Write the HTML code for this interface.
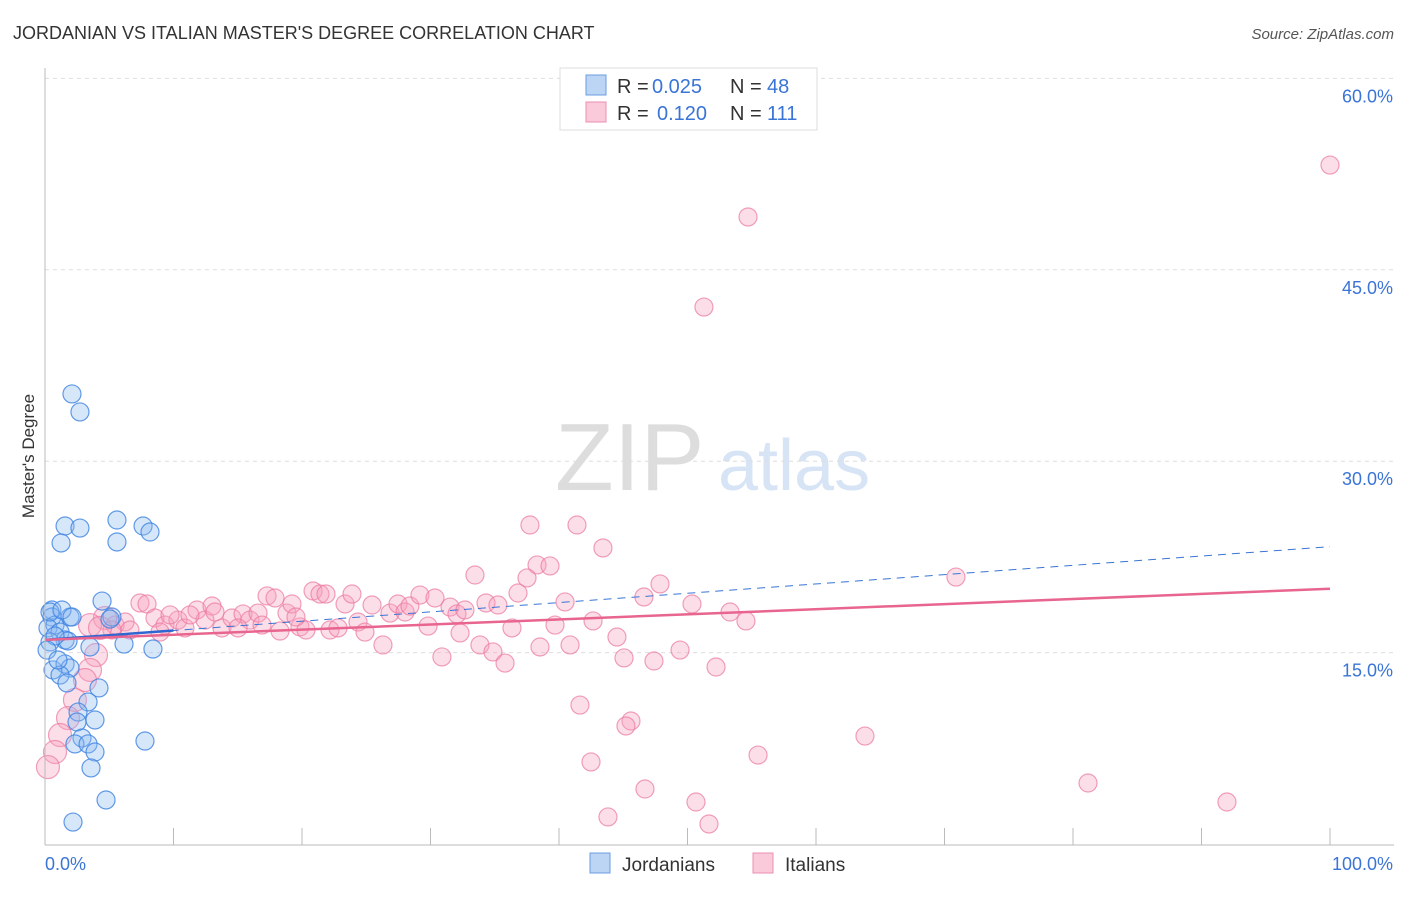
<!DOCTYPE html>
<html><head><meta charset="utf-8"><style>
body{margin:0;background:#fff;font-family:"Liberation Sans",sans-serif}
svg text{font-family:"Liberation Sans",sans-serif}
</style></head><body>
<svg id="c" width="1406" height="892" viewBox="0 0 1406 892" xmlns="http://www.w3.org/2000/svg">
<text x="13" y="39" font-size="18" fill="#333">JORDANIAN VS ITALIAN MASTER'S DEGREE CORRELATION CHART</text>
<text x="1394" y="39" font-size="15" fill="#555" text-anchor="end" font-style="italic">Source: ZipAtlas.com</text>
<text transform="translate(34,456) rotate(-90)" font-size="17" fill="#333" text-anchor="middle">Master's Degree</text>
<text x="555" y="490" font-size="96" fill="#ddd" font-family="Liberation Serif">ZIP</text>
<text x="718" y="490" font-size="72" fill="#d6e4f5">atlas</text>
<g id="grid"></g><g id="pts"></g><g id="trend"></g>
<line x1="45" y1="845" x2="1394" y2="845" stroke="#bbb"/>
<line x1="45" y1="68" x2="45" y2="845" stroke="#bbb"/>
<text x="45" y="870" font-size="18" fill="#3a74d6">0.0%</text>
<text x="1393" y="870" font-size="18" fill="#3a74d6" text-anchor="end">100.0%</text>
<g>
<rect x="560" y="68" width="257" height="62" fill="#fff" stroke="#ddd"/>
<rect x="586" y="75" width="20" height="20" fill="#bcd5f5" stroke="#6a9be0"/>
<text x="617" y="93" font-size="20" fill="#333">R =</text>
<text x="652" y="93" font-size="20" fill="#3a74d6">0.025</text>
<text x="730" y="93" font-size="20" fill="#333">N =</text>
<text x="767" y="93" font-size="20" fill="#3a74d6">48</text>
<rect x="586" y="102" width="20" height="20" fill="#fac9da" stroke="#ec8fb0"/>
<text x="617" y="120" font-size="20" fill="#333">R =</text>
<text x="657" y="120" font-size="20" fill="#3a74d6">0.120</text>
<text x="730" y="120" font-size="20" fill="#333">N =</text>
<text x="767" y="120" font-size="20" fill="#3a74d6">111</text>
</g>
<g>
<rect x="590" y="853" width="20" height="20" fill="#bcd5f5" stroke="#6a9be0"/>
<text x="622" y="871" font-size="19" fill="#333">Jordanians</text>
<rect x="753" y="853" width="20" height="20" fill="#fac9da" stroke="#ec8fb0"/>
<text x="785" y="871" font-size="19" fill="#333">Italians</text>
</g>
</svg>
<script>
const yTicks=[15,30,45,60];
const xTicks=[0,10,20,30,40,50,60,70,80,90,100];
const bluePx=[[72,394],[80,412],[65,526],[80,528],[117,520],[61,543],[117,542],[143,526],[150,532],[102,601],[112,617],[110,619],[52,610],[52,617],[70,617],[55,625],[48,628],[60,632],[65,640],[50,642],[68,641],[90,647],[53,670],[65,664],[70,668],[60,675],[67,683],[124,644],[153,649],[99,688],[88,702],[78,712],[77,722],[95,720],[82,738],[75,744],[88,744],[95,752],[91,768],[145,741],[106,800],[73,822],[50,612],[55,636],[47,650],[58,660],[62,610],[72,617]];
const pinkPx=[[1330,165],[748,217],[704,307],[530,525],[577,525],[603,548],[537,565],[550,566],[475,575],[527,578],[660,584],[956,577],[644,597],[692,604],[730,612],[746,621],[565,602],[593,621],[617,637],[680,650],[624,658],[654,661],[716,667],[580,705],[631,721],[626,726],[591,762],[758,755],[865,736],[645,789],[696,802],[608,817],[709,824],[1088,783],[1227,802],[140,603],[147,604],[105,618],[115,625],[125,622],[155,618],[165,625],[178,620],[185,628],[197,610],[205,620],[212,606],[222,628],[232,618],[243,614],[250,620],[258,613],[267,596],[275,598],[280,631],[287,613],[292,604],[300,627],[306,630],[313,591],[320,594],[326,594],[330,630],[338,628],[345,604],[352,594],[358,622],[365,632],[372,605],[383,645],[390,613],[398,604],[405,612],[410,606],[420,595],[428,626],[435,598],[442,657],[450,607],[457,614],[460,633],[465,610],[480,645],[486,603],[493,652],[498,605],[505,663],[512,628],[518,593],[540,647],[555,625],[570,645],[96,655],[90,670],[85,680],[75,700],[68,718],[60,735],[55,752],[48,767],[90,625],[112,630],[100,628],[130,630],[160,632],[170,615],[190,615],[215,612],[238,628],[262,625],[296,617]];
const blueX=bluePx.map(p=>+((p[0]-45)/12.85).toFixed(2)), blueY=bluePx.map(p=>+((844-p[1])/12.76).toFixed(2));
const pinkX=pinkPx.map(p=>+((p[0]-45)/12.85).toFixed(2)), pinkY=pinkPx.map(p=>+((844-p[1])/12.76).toFixed(2));
const pinkTrend=[16.0,20.0], blueTrend=[16.0,23.3];
const X=v=>45+v*12.85, Y=v=>844-v*12.76;
const ns="http://www.w3.org/2000/svg";
function mk(t,a,p){const e=document.createElementNS(ns,t);for(const k in a)e.setAttribute(k,a[k]);p.appendChild(e);return e;}
const g=document.getElementById('grid');
yTicks.forEach(t=>{const l=mk('line',{x1:45,x2:1394,y1:Y(t),y2:Y(t),stroke:'#ddd','stroke-dasharray':'4 4'},g);


const tx=mk('text',{x:1393,y:Y(t)+24,'font-size':18,fill:'#3a74d6','text-anchor':'end'},g);tx.textContent=t.toFixed(1)+'%';

});
xTicks.forEach(t=>{const l=mk('line',{x1:X(t),x2:X(t),y1:828,y2:845,stroke:'#bbb'},g);

});
const pg=document.getElementById('pts');
pinkX.forEach((x,i)=>{const c=mk('circle',{cx:X(x),cy:Y(pinkY[i]),r:(x<5?11.5:9),fill:'rgba(245,160,190,0.35)',stroke:'rgba(235,120,160,0.7)','stroke-width':1.2},pg);

});
blueX.forEach((x,i)=>{const c=mk('circle',{cx:X(x),cy:Y(blueY[i]),r:9,fill:'rgba(140,185,240,0.35)',stroke:'rgba(60,130,225,0.8)','stroke-width':1.2},pg);

});
const tg=document.getElementById('trend');
let l=mk('line',{x1:X(0),y1:Y(blueTrend[0]),x2:X(100),y2:Y(blueTrend[1]),stroke:'#3a74d6','stroke-width':1,'stroke-dasharray':'8 6'},tg);


l=mk('line',{x1:X(0),y1:Y(blueTrend[0]),x2:X(10),y2:Y(blueTrend[0]+(blueTrend[1]-blueTrend[0])*0.1),stroke:'#2f66d0','stroke-width':2.5},tg);


l=mk('line',{x1:X(0),y1:Y(pinkTrend[0]),x2:X(100),y2:Y(pinkTrend[1]),stroke:'#e8658f','stroke-width':2.5},tg);


</script>
</body></html>
